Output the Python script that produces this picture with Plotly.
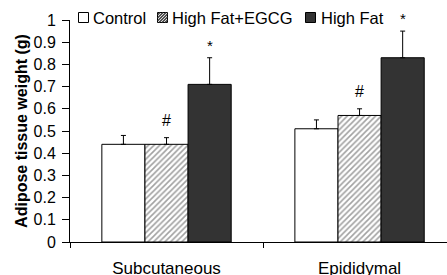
import plotly.graph_objects as go

categories = ["Subcutaneous", "Epididymal"]
series_names = ["Control", "High Fat+EGCG", "High Fat"]
control = [0.44, 0.51]
control_err = [0.04, 0.04]
hf_egcg = [0.44, 0.57]
hf_egcg_err = [0.03, 0.03]
high_fat = [0.71, 0.83]
high_fat_err = [0.12, 0.12]
y_ticks = [0, 0.1, 0.2, 0.3, 0.4, 0.5, 0.6, 0.7, 0.8, 0.9, 1]
y_tick_labels = ["0", "0.1", "0.2", "0.3", "0.4", "0.5", "0.6", "0.7", "0.8", "0.9", "1"]
marks_hash = ["#", "#"]
marks_star = ["*", "*"]

font = "Liberation Sans, Arial, sans-serif"
W, H = 447, 275
ML, MR, MT, MB = 70, 0, 20, 33
PW, PH = W - ML - MR, H - MT - MB
BARGAP = 0.33
DARK = "#333333"
HATCH = "#444444"


def px_x(px):
    return (px - ML) / PW


def px_y(py):
    return (H - MB - py) / PH


def err(arr):
    return dict(type="data", array=arr, arrayminus=[0] * len(arr), symmetric=False,
                color="black", thickness=1, width=2.5)

fig = go.Figure()
fig.add_trace(go.Bar(name=series_names[0], x=categories, y=control, error_y=err(control_err),
                     marker=dict(color="white", line=dict(color="black", width=1))))
fig.add_trace(go.Bar(name=series_names[1], x=categories, y=hf_egcg, error_y=err(hf_egcg_err),
                     marker=dict(color="white", line=dict(color="black", width=1),
                                 pattern=dict(shape="/", fgcolor=HATCH, bgcolor="white",
                                              size=4, solidity=0.4))))
fig.add_trace(go.Bar(name=series_names[2], x=categories, y=high_fat, error_y=err(high_fat_err),
                     marker=dict(color=DARK, line=dict(color="black", width=1))))

# significance marks
bw = (1 - BARGAP) / 3
for i, c in enumerate(categories):
    fig.add_annotation(x=i, y=hf_egcg[i] + hf_egcg_err[i], text=marks_hash[i], showarrow=False,
                       xref="x", yref="y", yanchor="bottom", yshift=7,
                       font=dict(size=16, color="black", family=font))
    fig.add_annotation(x=i + bw, y=high_fat[i] + high_fat_err[i], text=marks_star[i], showarrow=False,
                       xref="x", yref="y", yanchor="bottom", yshift=2,
                       font=dict(size=15, color="black", family=font))

# manual legend (compact, like the original)
leg_y0, leg_y1 = 12, 23
leg_items = [(78, 93), (157, 172), (305, 321)]
for k, (sx, tx) in enumerate(leg_items):
    fill = ["white", "white", DARK][k]
    fig.add_shape(type="rect", xref="paper", yref="paper",
                  x0=px_x(sx + 0.5), x1=px_x(sx + 10.5), y0=px_y(leg_y1 - 0.5), y1=px_y(leg_y0 + 0.5),
                  fillcolor=fill, line=dict(color="black", width=1), layer="above")
    if k == 1:
        x0, y0, s = sx + 0.5, leg_y0 + 0.5, 10
        c = x0 + y0 + 2.5
        while c < x0 + y0 + 2 * s:
            xa = max(x0, c - (y0 + s))
            xb = min(x0 + s, c - y0)
            fig.add_shape(type="line", xref="paper", yref="paper",
                          x0=px_x(xa), y0=px_y(c - xa), x1=px_x(xb), y1=px_y(c - xb),
                          line=dict(color="#333333", width=1.2), layer="above")
            c += 3.0
    fig.add_annotation(x=px_x(tx - 1), y=px_y((leg_y0 + leg_y1) / 2), xref="paper", yref="paper",
                       text=series_names[k], showarrow=False, xanchor="left", yanchor="middle",
                       font=dict(size=16.5, color="black", family=font), borderpad=0)

fig.update_layout(
    width=W, height=H,
    margin=dict(l=ML, r=MR, t=MT, b=MB, autoexpand=False),
    paper_bgcolor="white", plot_bgcolor="white",
    barmode="group", bargap=BARGAP, bargroupgap=0,
    font=dict(family=font, size=16, color="black"),
    showlegend=False,
)
fig.update_xaxes(
    type="category", range=[-0.5, 1.453], showline=True, linecolor="black", linewidth=1,
    ticks="outside", tickson="boundaries", ticklen=5, tickcolor="black",
    showgrid=False, zeroline=False, tickfont=dict(size=17, family=font),
    ticklabelstandoff=11, automargin=False,
)
fig.update_yaxes(
    range=[0, 1], tickvals=y_ticks, ticktext=y_tick_labels, showline=True, linecolor="black",
    linewidth=1, ticks="outside", ticklen=7, tickcolor="black", showgrid=False, zeroline=False,
    tickfont=dict(size=16, family=font), ticklabelstandoff=3, automargin=False,
    title=dict(text="<b>Adipose tissue weight (g)</b>", font=dict(size=16, family=font), standoff=1),
)

fig.write_html("out.html", config={"displayModeBar": False, "staticPlot": True},
               post_script="document.body.style.margin='0';document.body.style.overflow='hidden';")
